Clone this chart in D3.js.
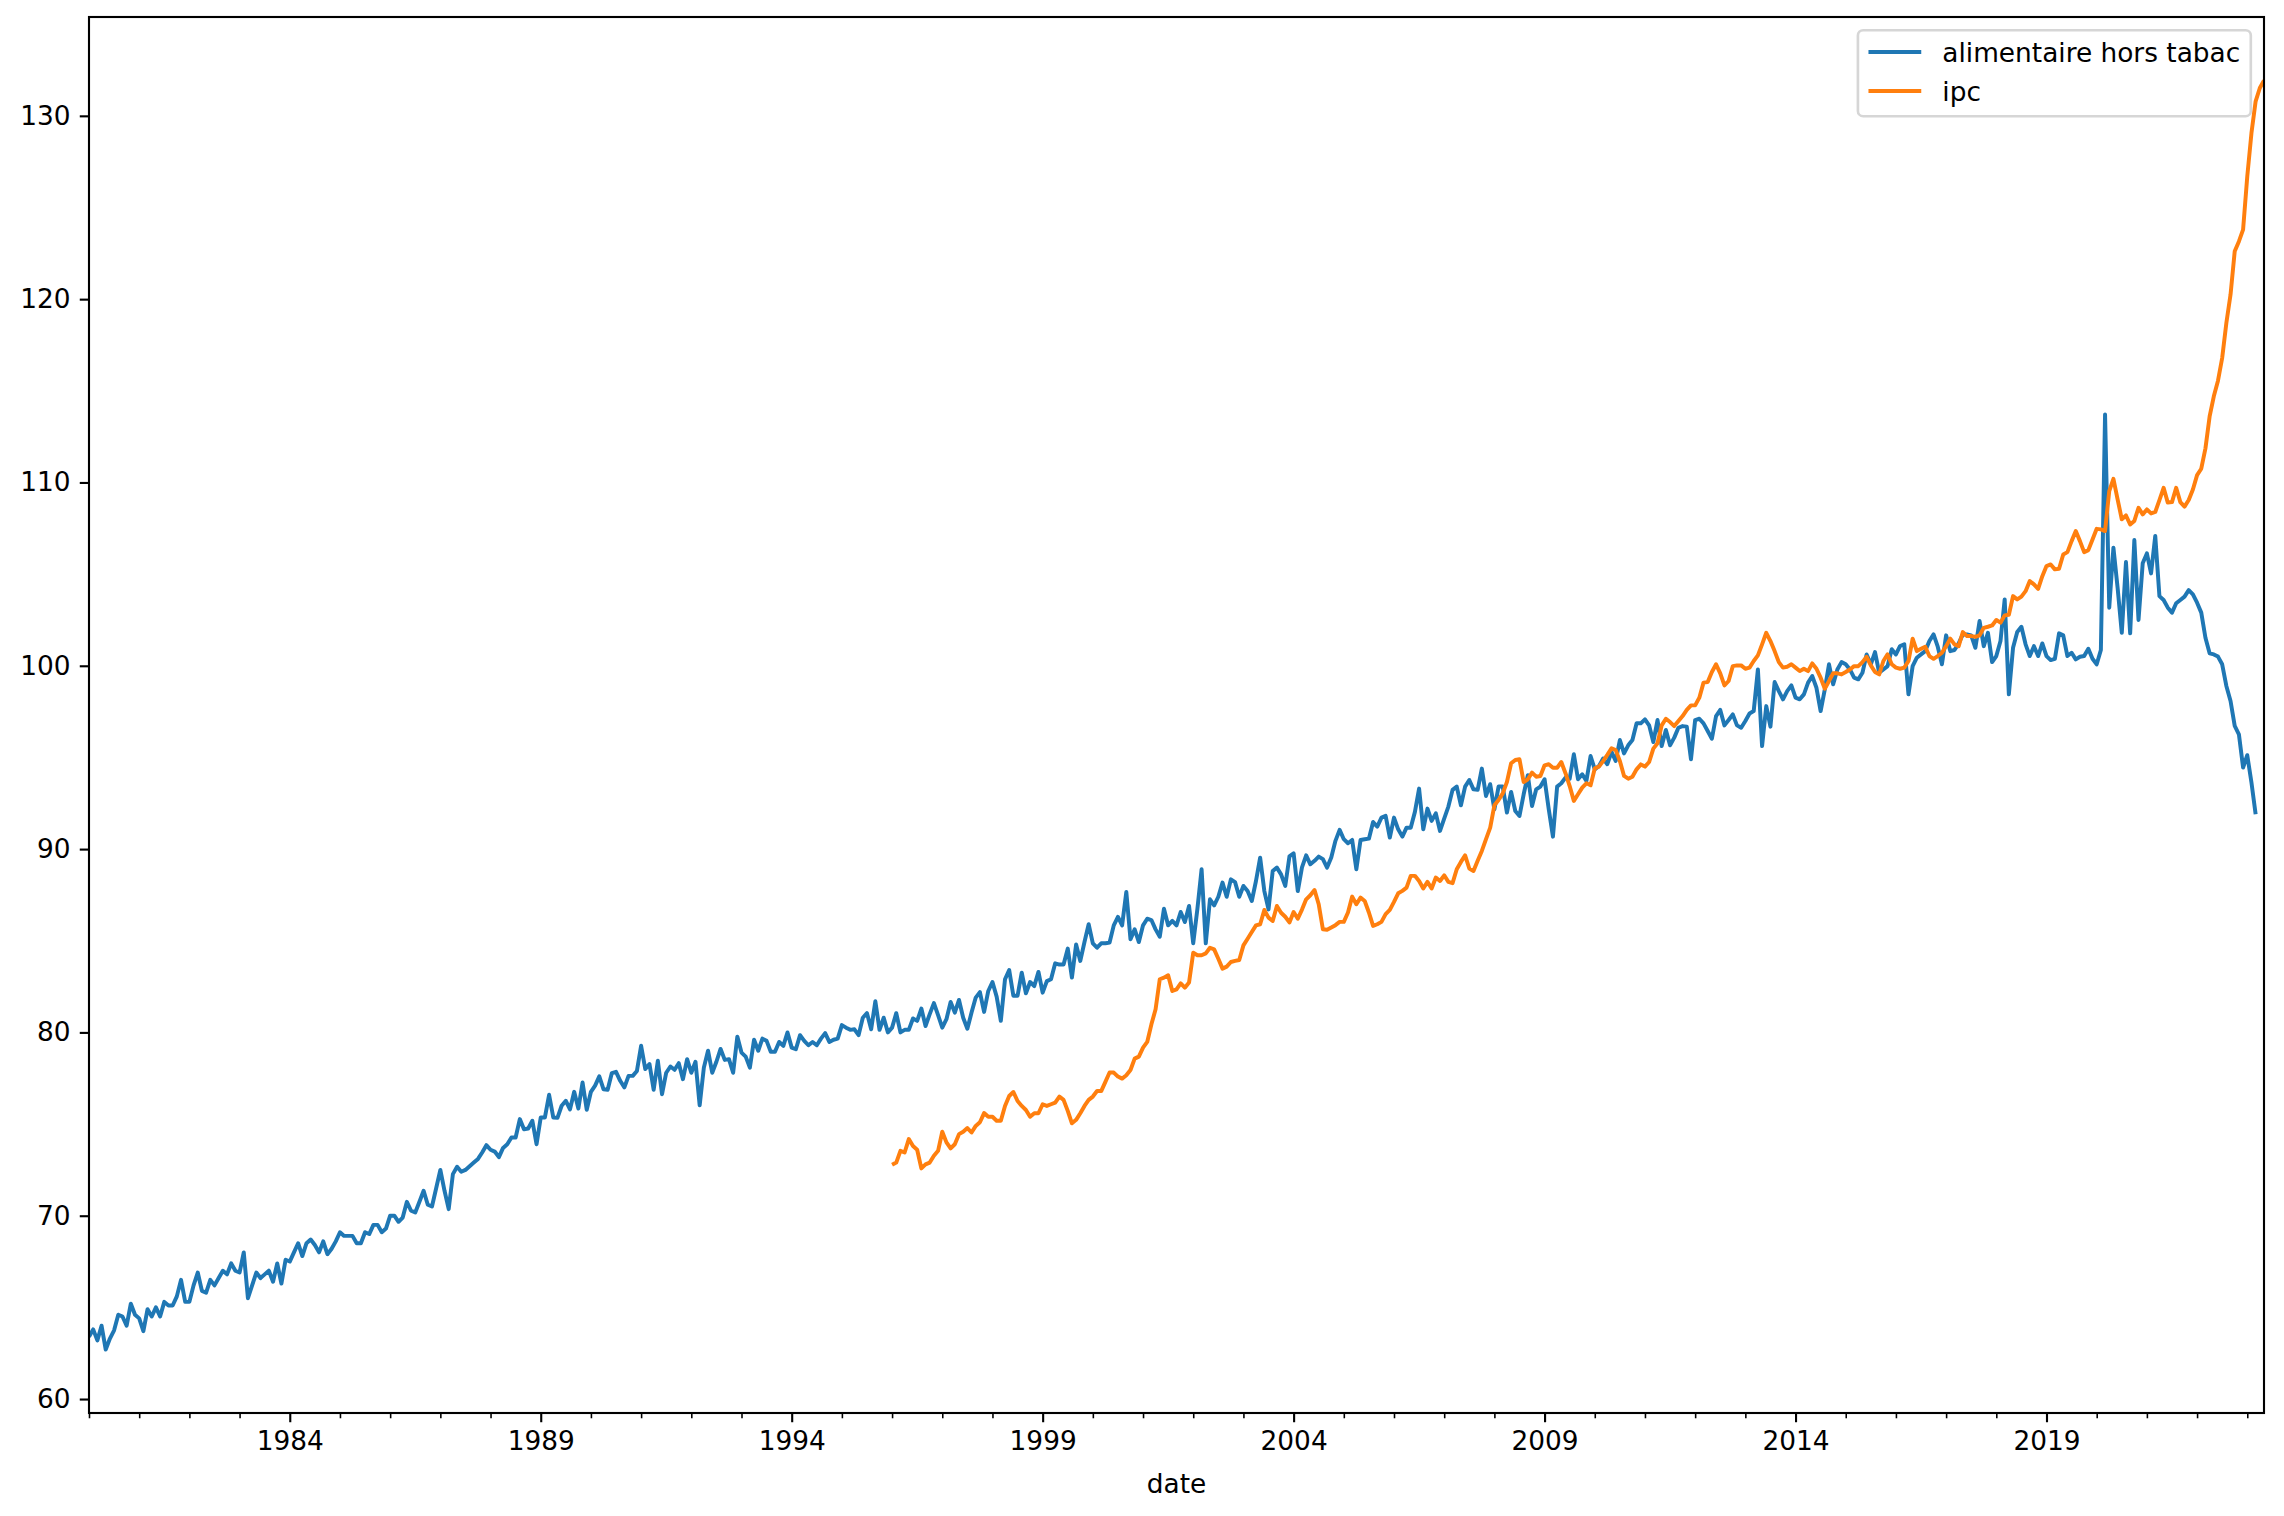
<!DOCTYPE html>
<html><head><meta charset="utf-8">
<script src="https://cdn.jsdelivr.net/npm/d3@7/dist/d3.min.js"></script>
<style>body{margin:0;background:#fff}svg{display:block}</style>
</head><body><svg id="chart" width="2284" height="1516"></svg>
<script>
// ---- data (monthly, first value = first month given by *Start) ----
const alimentaireStart = [1980, 1];
const alimentaire = [
63.4,63.8,63.2,64.0,62.7,63.3,63.75,64.6,64.5,64.0,65.2,64.6,
64.4,63.7,64.9,64.5,65.0,64.5,65.3,65.1,65.1,65.6,66.5,65.3,
65.3,66.2,66.9,65.9,65.8,66.5,66.2,66.6,67.0,66.8,67.4,67.0,
66.9,68.0,65.5,66.2,66.9,66.6,66.8,67.0,66.4,67.4,66.3,67.6,
67.5,68.0,68.5,67.8,68.5,68.7,68.4,68.0,68.6,67.9,68.2,68.6,
69.1,68.9,68.9,68.9,68.5,68.5,69.1,69.0,69.5,69.5,69.1,69.3,
70.0,70.0,69.67,69.9,70.76,70.27,70.18,70.76,71.36,70.6,70.5,71.5,
72.5,71.36,70.36,72.27,72.67,72.4,72.5,72.7,72.9,73.1,73.45,73.85,
73.6,73.5,73.2,73.7,73.9,74.27,74.27,75.27,74.72,74.76,75.18,73.9,
75.36,75.36,76.6,75.36,75.34,76.0,76.27,75.8,76.76,75.85,77.27,75.78,
76.76,77.1,77.6,76.9,76.87,77.78,77.85,77.36,77.0,77.63,77.63,77.9,
79.27,78.0,78.27,76.87,78.45,76.63,77.8,78.14,77.96,78.32,77.45,78.54,
77.8,78.4,76.03,78.08,79.0,77.8,78.4,79.1,78.5,78.54,77.8,79.77,
78.9,78.68,78.08,79.6,79.0,79.66,79.54,78.94,78.94,79.48,79.27,80.0,
79.17,79.08,79.85,79.54,79.3,79.48,79.3,79.66,79.96,79.48,79.6,79.66,
80.4,80.26,80.14,80.17,79.85,80.8,81.05,80.17,81.7,80.14,80.8,80.0,
80.26,81.05,80.0,80.14,80.14,80.76,80.63,81.3,80.35,81.0,81.6,80.94,
80.26,80.72,81.66,81.08,81.77,80.8,80.2,81.08,81.9,82.2,81.12,82.26,
82.75,81.95,80.63,82.9,83.4,82.0,82.0,83.26,82.13,82.75,82.53,83.3,
82.17,82.8,82.9,83.77,83.7,83.7,84.57,82.99,84.8,83.9,84.93,85.9,
84.86,84.62,84.86,84.86,84.9,85.84,86.3,85.84,87.66,85.08,85.62,84.93,
85.84,86.2,86.13,85.62,85.22,86.75,85.84,86.08,85.84,86.57,86.02,86.9,
84.86,86.75,88.9,84.86,87.26,86.93,87.4,88.17,87.4,88.35,88.2,87.4,
87.99,87.71,87.17,88.26,89.53,87.71,86.71,88.8,88.99,88.62,87.99,89.6,
89.77,87.71,89.0,89.66,89.17,89.36,89.59,89.45,88.99,89.54,90.45,91.05,
90.54,90.32,90.5,88.9,90.5,90.54,90.57,91.48,91.23,91.72,91.81,90.63,
91.72,91.08,90.68,91.17,91.17,92.03,93.3,91.08,92.21,91.54,91.95,90.99,
91.66,92.32,93.23,93.41,92.39,93.41,93.77,93.26,93.23,94.39,92.9,93.54,
92.17,93.41,93.41,91.99,93.12,92.08,91.81,92.99,94.03,92.35,93.26,93.41,
93.81,92.17,90.68,93.41,93.59,93.9,93.84,95.17,93.81,94.08,93.72,95.08,
94.35,94.53,94.94,94.63,95.3,94.81,95.95,95.22,95.66,95.95,96.86,96.86,
97.08,96.75,95.84,97.04,95.62,96.5,95.66,96.08,96.62,96.71,96.68,94.9,
97.04,97.11,96.86,96.44,96.02,97.26,97.59,96.75,97.04,97.35,96.75,96.62,
96.99,97.4,97.53,99.8,95.62,97.8,96.68,99.11,98.62,98.17,98.62,98.93,
98.26,98.17,98.44,99.08,99.44,98.8,97.53,98.71,100.08,98.99,99.8,100.2,
100.08,99.8,99.35,99.26,99.62,100.62,100.08,100.75,99.62,99.8,99.98,100.9,
100.62,101.08,101.17,98.44,99.98,100.44,100.62,100.8,101.35,101.71,101.04,100.08,
101.66,100.8,100.86,101.22,101.71,101.71,101.66,100.98,102.44,101.07,101.8,100.2,
100.53,101.35,103.62,98.44,100.98,101.84,102.13,101.17,100.53,101.07,100.53,101.22,
100.53,100.31,100.38,101.77,101.66,100.53,100.71,100.35,100.49,100.53,100.93,100.38,
100.08,100.86,113.71,103.17,106.44,104.26,101.8,105.66,101.77,106.86,102.5,105.59,
106.13,105.04,107.08,103.8,103.59,103.17,102.9,103.41,103.59,103.77,104.13,103.9,
103.44,102.9,101.53,100.68,100.62,100.5,100.08,98.9,98.08,96.72,96.26,94.45,
95.12,93.63,91.9
];
const ipcStart = [1996, 1];
const ipc = [
72.78,72.9,73.54,73.45,74.18,73.8,73.6,72.58,72.8,72.9,73.27,73.54,
74.58,74.0,73.67,73.9,74.45,74.58,74.78,74.54,74.9,75.1,75.6,75.4,
75.4,75.18,75.18,75.99,76.53,76.75,76.26,75.99,75.77,75.4,75.59,75.59,
76.08,75.99,76.08,76.17,76.5,76.32,75.72,75.04,75.23,75.59,75.99,76.32,
76.5,76.8,76.8,77.3,77.81,77.81,77.59,77.48,77.66,77.95,78.57,78.68,
79.17,79.48,80.44,81.26,82.9,82.99,83.12,82.26,82.35,82.68,82.44,82.72,
84.35,84.21,84.21,84.31,84.62,84.53,84.02,83.48,83.59,83.84,83.9,83.95,
84.75,85.11,85.48,85.84,85.9,86.68,86.26,86.08,86.9,86.53,86.31,86.0,
86.57,86.2,86.7,87.26,87.48,87.77,86.99,85.63,85.6,85.72,85.85,86.03,
86.03,86.54,87.41,86.99,87.35,87.17,86.54,85.81,85.9,86.03,86.45,86.68,
87.12,87.59,87.72,87.9,88.54,88.54,88.26,87.85,88.21,87.85,88.45,88.26,
88.57,88.21,88.14,88.9,89.3,89.66,88.94,88.81,89.36,89.9,90.54,91.17,
92.39,92.68,93.04,93.66,94.68,94.86,94.9,93.66,93.81,94.17,93.95,93.99,
94.57,94.63,94.44,94.44,94.75,94.14,93.44,92.63,92.99,93.35,93.59,93.48,
94.4,94.5,94.8,95.14,95.5,95.4,94.81,93.99,93.84,93.95,94.35,94.62,
94.5,94.75,95.48,95.77,96.75,97.11,96.93,96.71,96.99,97.26,97.59,97.84,
97.84,98.26,99.08,99.11,99.66,100.08,99.59,98.93,99.17,99.98,100.02,100.02,
99.84,99.9,100.26,100.57,101.17,101.8,101.35,100.8,100.2,99.9,99.95,100.08,
99.9,99.71,99.84,99.71,100.13,99.84,99.35,98.75,99.17,99.59,99.59,99.53,
99.66,99.8,99.98,99.98,100.2,100.49,100.02,99.66,99.53,100.26,100.62,100.08,
99.9,99.84,99.9,100.26,101.48,100.8,100.93,101.04,100.53,100.38,100.53,100.71,
101.07,101.48,101.17,101.07,101.84,101.62,101.62,101.58,101.66,102.07,102.13,102.2,
102.5,102.35,102.75,102.78,103.8,103.62,103.77,104.07,104.62,104.44,104.2,104.89,
105.44,105.53,105.26,105.29,106.07,106.2,106.8,107.35,106.8,106.2,106.31,106.89,
107.47,107.44,107.35,109.53,110.2,109.08,107.99,108.2,107.71,107.9,108.62,108.26,
108.53,108.31,108.39,109.04,109.71,108.9,108.93,109.71,108.93,108.68,109.04,109.62,
110.4,110.75,111.86,113.6,114.7,115.55,116.79,118.7,120.25,122.61,123.15,123.79,
126.7,129.06,130.79,131.52,131.93
];
const seriesNames = ["alimentaire hors tabac", "ipc"];
const seriesColors = ["#1f77b4", "#ff7f0e"];
const xMajorYears = [1984, 1989, 1994, 1999, 2004, 2009, 2014, 2019];
const yTickValues = [60, 70, 80, 90, 100, 110, 120, 130];
const xLabel = "date";

// ---- build (matplotlib look at 190 dpi) ----
const W = 2284, H = 1516;
const PT = 190 / 72;
const M = {left: 89, right: 2264, top: 17, bottom: 1413};
const FONT = "'DejaVu Sans', sans-serif";
const FS = 10 * PT;

const monthIndex = (y, m) => (y - 1980) * 12 + (m - 1);
function toPoints(start, arr) {
  const s = monthIndex(start[0], start[1]);
  return arr.map((v, i) => ({m: s + i, v}));
}
const series = [toPoints(alimentaireStart, alimentaire), toPoints(ipcStart, ipc)];
const allPts = series.flat();
const xExt = d3.extent(allPts, d => d.m);
const yExt = d3.extent(allPts, d => d.v);
const yPad = (yExt[1] - yExt[0]) * 0.05;

const x = d3.scaleLinear().domain(xExt).range([M.left, M.right]);
const y = d3.scaleLinear().domain([yExt[0] - yPad, yExt[1] + yPad]).range([M.bottom, M.top]);

const svg = d3.select("#chart");
svg.append("rect").attr("width", W).attr("height", H).attr("fill", "#fff");

svg.append("defs").append("clipPath").attr("id", "clip")
  .append("rect").attr("x", M.left).attr("y", M.top)
  .attr("width", M.right - M.left).attr("height", M.bottom - M.top);

const line = d3.line().x(d => x(d.m)).y(d => y(d.v));
const gLines = svg.append("g").attr("clip-path", "url(#clip)");
series.forEach((s, i) => {
  gLines.append("path").datum(s).attr("d", line)
    .attr("fill", "none").attr("stroke", seriesColors[i])
    .attr("stroke-width", 1.5 * PT).attr("stroke-linejoin", "round");
});

// y axis
const yAxis = d3.axisLeft(y).tickValues(yTickValues).tickSize(3.5 * PT).tickPadding(3.5 * PT).tickFormat(d3.format("d"));
const gy = svg.append("g").attr("transform", `translate(${M.left},0)`).call(yAxis);
// x axis
const majorM = xMajorYears.map(yr => monthIndex(yr, 1));
const minorM = d3.range(1980, 2024).map(yr => monthIndex(yr, 1)).filter(m => m >= xExt[0] && m <= xExt[1] && !majorM.includes(m));
const gxMinor = svg.append("g").attr("transform", `translate(0,${M.bottom})`)
  .call(d3.axisBottom(x).tickValues(minorM).tickSize(2 * PT).tickFormat(""));
const gx = svg.append("g").attr("transform", `translate(0,${M.bottom})`)
  .call(d3.axisBottom(x).tickValues(majorM).tickSize(3.5 * PT).tickPadding(3.5 * PT)
    .tickFormat(m => String(1980 + Math.round(m / 12))));
[gy, gx, gxMinor].forEach(g => {
  g.select(".domain").remove();
  g.selectAll("line").attr("stroke", "#000").attr("stroke-width", (g === gxMinor ? 0.6 : 0.8) * PT);
  g.selectAll("text").attr("fill", "#000").style("font-family", FONT).style("font-size", FS + "px");
});

// frame
svg.append("rect").attr("x", M.left).attr("y", M.top)
  .attr("width", M.right - M.left).attr("height", M.bottom - M.top)
  .attr("fill", "none").attr("stroke", "#000").attr("stroke-width", 0.8 * PT);

// x label
svg.append("text").attr("x", (M.left + M.right) / 2).attr("y", 1493)
  .attr("text-anchor", "middle").style("font-family", FONT).style("font-size", FS + "px")
  .text(xLabel);

// legend (upper right)
const lg = svg.append("g");
const frame = lg.append("rect").attr("rx", 0.2 * FS)
  .attr("fill", "#fff").attr("fill-opacity", 0.8).attr("stroke", "#d6d6d6").attr("stroke-width", 1.0 * PT);
let maxW = 0;
const rowY = [52, 91];
const pad = 0.4 * FS, handleLen = 2 * FS, textPad = 0.8 * FS;
const items = seriesNames.map((n, i) => {
  const ln = lg.append("line").attr("y1", rowY[i]).attr("y2", rowY[i])
    .attr("stroke", seriesColors[i]).attr("stroke-width", 1.5 * PT);
  const tx = lg.append("text").attr("y", rowY[i]).attr("dy", "0.36em")
    .style("font-family", FONT).style("font-size", FS + "px").text(n);
  maxW = Math.max(maxW, tx.node().getComputedTextLength());
  return {ln, tx};
});
const lgRight = M.right - 0.5 * FS;
const lgW = pad + handleLen + textPad + maxW + pad;
const lgLeft = lgRight - lgW;
frame.attr("x", lgLeft).attr("y", M.top + 0.5 * FS).attr("width", lgW).attr("height", 86);
items.forEach(({ln, tx}) => {
  ln.attr("x1", lgLeft + pad).attr("x2", lgLeft + pad + handleLen);
  tx.attr("x", lgLeft + pad + handleLen + textPad);
});
</script></body></html>
